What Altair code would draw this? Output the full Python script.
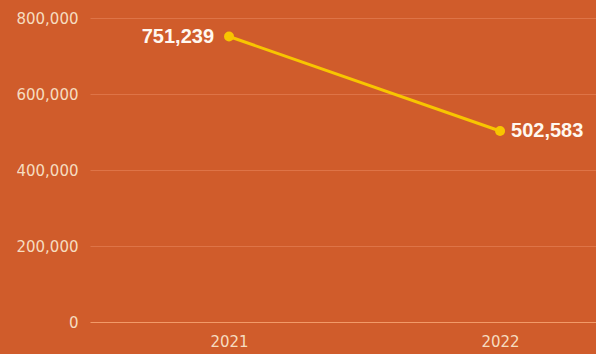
import altair as alt
import pandas as pd

years = [2021, 2022]
values = [751239, 502583]
labels = ["751,239", "502,583"]
y_ticks = [0, 200000, 400000, 600000, 800000]

df = pd.DataFrame({"year": years, "value": values, "label": labels})

x_scale = alt.Scale(domain=[2020.487, 2022.354], nice=False, zero=False)
y_scale = alt.Scale(domain=[0, 800000], nice=False)

x_axis = alt.Axis(values=years, format="d", title=None, grid=False, ticks=False,
                  domain=False, labelFont="DejaVu Sans", labelFontSize=15,
                  labelColor="#F6DCC0", labelPadding=12)
y_axis = alt.Axis(values=y_ticks, format=",d", title=None, ticks=False, domain=False,
                  labelFont="DejaVu Sans", labelFontSize=15, labelColor="#F6DCC0",
                  labelPadding=12,
                  gridColor={"condition": {"test": "datum.value === 0", "value": "#F29A68"},
                             "value": "#DE7447"},
                  gridWidth=1.2)

base = alt.Chart(df).encode(
    x=alt.X("year:Q", scale=x_scale, axis=x_axis),
    y=alt.Y("value:Q", scale=y_scale, axis=y_axis),
)

line = base.mark_line(color="#F8C500", strokeWidth=3)
points = base.mark_circle(color="#F8C500", size=100, opacity=1)

lab1 = alt.Chart(df.iloc[[0]]).mark_text(
    align="right", baseline="middle", dx=-15, dy=0, font="Liberation Sans",
    fontWeight="bold", fontSize=20, color="#FFF8F0"
).encode(x=alt.X("year:Q", scale=x_scale), y=alt.Y("value:Q", scale=y_scale), text="label:N")

lab2 = alt.Chart(df.iloc[[1]]).mark_text(
    align="left", baseline="middle", dx=11, dy=0, font="Liberation Sans",
    fontWeight="bold", fontSize=20, color="#FFF8F0"
).encode(x=alt.X("year:Q", scale=x_scale), y=alt.Y("value:Q", scale=y_scale), text="label:N")

chart = alt.layer(line, points, lab1, lab2).properties(
    width=506, height=304,
    autosize=alt.AutoSizeParams(type="none"),
    padding={"left": 90, "top": 18, "right": 0, "bottom": 32},
    background="#D05C2B",
).configure_view(stroke=None)

chart.save("out.html", embed_options={"renderer": "svg", "actions": False})
